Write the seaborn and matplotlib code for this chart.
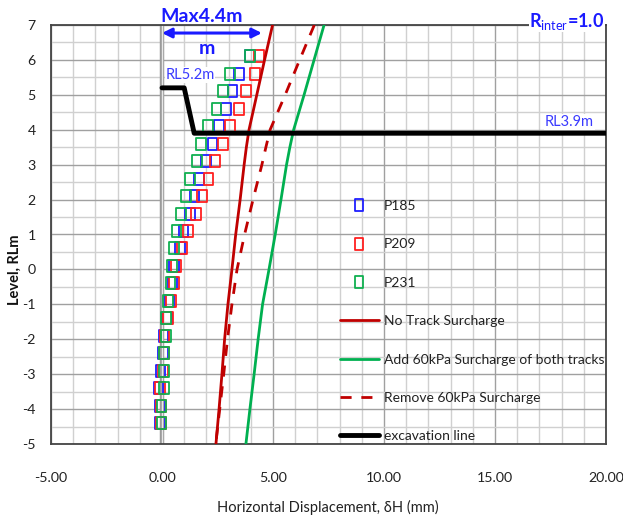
import numpy as np
import pandas as pd
import matplotlib
matplotlib.use("Agg")
import matplotlib.pyplot as plt
from matplotlib.lines import Line2D
from matplotlib.path import Path
from matplotlib.ticker import MultipleLocator, FormatStrFormatter
import seaborn as sns

# Inclinometer readings (level in RL m, displacement in mm)
levels = [6.1, 5.6, 5.1, 4.6, 4.1, 3.6, 3.1, 2.6, 2.1, 1.6, 1.1,
          0.6, 0.1, -0.4, -0.9, -1.4, -1.9, -2.4, -2.9, -3.4, -3.9, -4.4]
p185 = [3.96, 3.47, 3.18, 2.87, 2.57, 2.28, 1.98, 1.67, 1.46, 1.26, 0.96,
        0.81, 0.55, 0.47, 0.33, 0.22, 0.06, 0.05, -0.06, -0.15, -0.10, -0.10]
p209 = [4.37, 4.19, 3.77, 3.48, 3.06, 2.76, 2.39, 2.09, 1.79, 1.52, 1.18,
        0.91, 0.62, 0.55, 0.41, 0.28, 0.12, 0.09, 0.05, -0.10, -0.05, -0.05]
p231 = [3.96, 3.06, 2.76, 2.46, 2.07, 1.76, 1.59, 1.26, 1.07, 0.86, 0.66,
        0.54, 0.46, 0.39, 0.26, 0.18, 0.17, 0.09, 0.09, 0.09, -0.02, -0.02]

# Predicted wall deflection profiles
pred_levels = [7, 6, 5, 4, 3.5, 3, 2, 1, 0, -1, -2, -3, -4, -5]
no_track = [4.98, 4.62, 4.27, 3.92, 3.80, 3.70, 3.52, 3.32, 3.15, 2.97, 2.82, 2.70, 2.57, 2.43]
add_60 = [7.30, 6.85, 6.40, 5.93, 5.76, 5.61, 5.36, 5.10, 4.82, 4.53, 4.33, 4.15, 3.96, 3.78]
remove_60 = [6.86, 6.20, 5.55, 4.87, 4.68, 4.50, 4.10, 3.72, 3.38, 3.15, 2.95, 2.78, 2.60, 2.42]

# Excavation profile
exc_x = [0.0, 1.0, 1.45, 20.0]
exc_y = [5.2, 5.2, 3.9, 3.9]

sns.set_theme(style="white")
plt.rcParams["font.family"] = ["Lato", "DejaVu Sans"]
plt.rcParams["axes.unicode_minus"] = False
plt.rcParams["mathtext.fontset"] = "custom"
plt.rcParams["mathtext.rm"] = "Lato"
plt.rcParams["mathtext.bf"] = "Lato:bold"

fig = plt.figure(figsize=(6.23, 5.2), dpi=100)
ax = fig.add_axes([51 / 623, 76 / 520, 555 / 623, 419 / 520])

ax.set_xlim(-5, 20)
ax.set_ylim(-5, 7)
ax.xaxis.set_major_locator(MultipleLocator(5))
ax.xaxis.set_minor_locator(MultipleLocator(1))
ax.yaxis.set_major_locator(MultipleLocator(1))
ax.yaxis.set_minor_locator(MultipleLocator(0.5))
ax.xaxis.set_major_formatter(FormatStrFormatter("%.2f"))
ax.grid(which="major", color="#a0a0a0", lw=1.0, zorder=0)
ax.grid(which="minor", color="#d0d0d0", lw=1.0, zorder=0)
ax.set_axisbelow(True)
ax.tick_params(which="both", length=0)
ax.tick_params(axis="x", pad=20, labelsize=10.2, colors="#222222")
ax.tick_params(axis="y", pad=11, labelsize=10.2, colors="#222222")
for s in ax.spines.values():
    s.set_color("#444444")
    s.set_linewidth(1.3)

# double grey line marking zero displacement
ax.axvline(0, color="#9a9a9a", lw=3.2, zorder=1)
ax.axvline(0, color="#e8e8e8", lw=1.0, zorder=1)

# rectangular open marker
rect = Path([(-0.8, -1), (0.8, -1), (0.8, 1), (-0.8, 1), (-0.8, -1)],
            [Path.MOVETO, Path.LINETO, Path.LINETO, Path.LINETO, Path.CLOSEPOLY])

obs = pd.DataFrame({"level": levels, "P185": p185, "P209": p209, "P231": p231})
marker_colors = {"P185": "#1f1fff", "P209": "#ff2020", "P231": "#10b050"}
for name, col in marker_colors.items():
    sns.scatterplot(data=obs, x=name, y="level", ax=ax, marker=rect, s=75,
                    facecolors="none", edgecolor=col, linewidth=1.3, zorder=3)

pred = pd.DataFrame({"level": pred_levels, "no": no_track, "add": add_60, "rem": remove_60})
sns.lineplot(data=pred, x="no", y="level", sort=False, estimator=None, ax=ax,
             color="#c00000", lw=2.0, zorder=4)
sns.lineplot(data=pred, x="add", y="level", sort=False, estimator=None, ax=ax,
             color="#00b050", lw=2.0, zorder=4)
sns.lineplot(data=pred, x="rem", y="level", sort=False, estimator=None, ax=ax,
             color="#c00000", lw=2.0, linestyle=(0, (4, 3.5)), zorder=4)
sns.lineplot(x=exc_x, y=exc_y, sort=False, estimator=None, ax=ax,
             color="black", lw=3.5, zorder=5)

ax.set_xlim(-5, 20)
ax.set_ylim(-5, 7)

ax.set_xlabel("Horizontal Displacement, δH (mm)", fontsize=10.5, color="#222222")
ax.set_ylabel("Level, RLm", fontsize=10.5, fontweight="bold", color="#111111")
ax.xaxis.set_label_coords(0.498, -0.133)
ax.yaxis.set_label_coords(-0.052, 0.415)

blue = "#1a1aff"
ax.annotate("", xy=(4.5, 6.77), xytext=(0.0, 6.77),
            arrowprops=dict(arrowstyle="<|-|>", color=blue, lw=2.2,
                            mutation_scale=14, shrinkA=0, shrinkB=0),
            annotation_clip=False, zorder=6)
fig.text(202 / 623, 1 - 16 / 520, "Max4.4m", color=blue, fontsize=14,
         fontweight="bold", ha="center", va="center")
fig.text(207 / 623, 1 - 48 / 520, "m", color=blue, fontsize=14,
         fontweight="bold", ha="center", va="center")
ax.text(0.15, 5.57, "RL5.2m", color="#3a3aff", fontsize=10.5, ha="left", va="center",
        bbox=dict(facecolor="white", edgecolor="none", pad=0.5), zorder=6)
ax.text(17.25, 4.22, "RL3.9m", color="#3a3aff", fontsize=10.5, ha="left", va="center",
        bbox=dict(facecolor="white", edgecolor="none", pad=0.5), zorder=6)
fig.text(567 / 623, 1 - 21 / 520, r"$\mathbf{R}_{\mathrm{inter}}$=1.0",
         color=blue, fontsize=13, fontweight="bold", ha="center", va="center",
         bbox=dict(facecolor="white", edgecolor="none", pad=0.5))

handles = [
    Line2D([], [], ls="none", marker=rect, ms=8, mfc="none", mec=marker_colors["P185"], mew=1.3),
    Line2D([], [], ls="none", marker=rect, ms=8, mfc="none", mec=marker_colors["P209"], mew=1.3),
    Line2D([], [], ls="none", marker=rect, ms=8, mfc="none", mec=marker_colors["P231"], mew=1.3),
    Line2D([], [], color="#c00000", lw=2.0),
    Line2D([], [], color="#00b050", lw=2.0),
    Line2D([], [], color="#c00000", lw=2.0, ls=(0, (4, 3.5))),
    Line2D([], [], color="black", lw=3.5),
]
labels = ["P185", "P209", "P231", "No Track Surcharge",
          "Add 60kPa Surcharge of both tracks", "Remove 60kPa Surcharge", "excavation line"]
leg = fig.legend(handles, labels, loc="upper left", bbox_to_anchor=(340 / 623, 1 - 200 / 520),
                 frameon=False, fontsize=10, labelspacing=1.9, handlelength=2.8,
                 handletextpad=0.35, borderpad=0, borderaxespad=0)
for t in leg.get_texts():
    t.set_color("#222222")

fig.savefig("out.png", dpi=100)
